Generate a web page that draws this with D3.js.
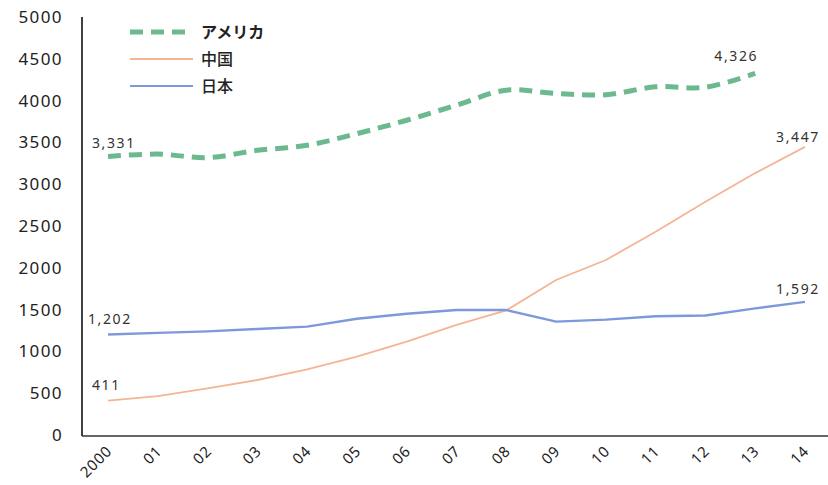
<!DOCTYPE html>
<html>
<head>
<meta charset="utf-8">
<script src="https://cdn.jsdelivr.net/npm/d3@7"></script>
<style>
  body { margin: 0; background: #fff; }
  text { font-family: "Noto Sans", "Noto Sans CJK JP", sans-serif; }
</style>
</head>
<body>
<script>
// Data
const years = ["2000", "01", "02", "03", "04", "05", "06", "07", "08", "09", "10", "11", "12", "13", "14"];
const usa = [3331, 3360, 3318, 3405, 3465, 3605, 3765, 3945, 4125, 4085, 4070, 4165, 4160, 4326];
const china = [411, 466, 558, 658, 786, 937, 1116, 1316, 1490, 1854, 2093, 2432, 2790, 3133, 3447];
const japan = [1202, 1222, 1240, 1268, 1296, 1390, 1450, 1495, 1495, 1356, 1380, 1420, 1430, 1515, 1592];
const yTicks = [0, 500, 1000, 1500, 2000, 2500, 3000, 3500, 4000, 4500, 5000];

const width = 828, height = 485;

const x = d3.scalePoint().domain(years).range([108, 805]);
const y = d3.scaleLinear().domain([0, 5000]).range([435, 17]);

const svg = d3.select("body").append("svg")
  .attr("width", width)
  .attr("height", height)
  .attr("viewBox", [0, 0, width, height]);

// Axes
svg.append("line")
  .attr("x1", 82).attr("x2", 82)
  .attr("y1", y(5000)).attr("y2", y(0) + 1)
  .attr("stroke", "#111").attr("stroke-width", 1.6);

svg.append("line")
  .attr("x1", 82).attr("x2", width)
  .attr("y1", y(0) + 1).attr("y2", y(0) + 1)
  .attr("stroke", "#333").attr("stroke-width", 1.6);

svg.append("g")
  .selectAll("text")
  .data(yTicks)
  .join("text")
  .attr("x", 63)
  .attr("y", (d) => y(d))
  .attr("dy", "0.35em")
  .attr("text-anchor", "end")
  .attr("font-size", 17)
  .attr("letter-spacing", 1.4)
  .attr("fill", "#222")
  .text((d) => d);

svg.append("g")
  .selectAll("text")
  .data(years)
  .join("text")
  .attr("transform", (d) => `translate(${x(d) + 5},${452}) rotate(-45)`)
  .attr("text-anchor", "end")
  .attr("font-size", 15)
  .attr("letter-spacing", 0.8)
  .attr("fill", "#222")
  .text((d) => d);

// Lines
const series = [
  { name: "アメリカ", values: usa, color: "#6cb990", width: 5, dash: "13,8", curve: d3.curveCatmullRom, weight: "bold" },
  { name: "中国", values: china, color: "#f4b595", width: 1.8, dash: null, curve: d3.curveLinear, weight: 500 },
  { name: "日本", values: japan, color: "#7e98dc", width: 2.4, dash: null, curve: d3.curveLinear, weight: 500 }
];

series.forEach((s) => {
  const line = d3.line()
    .x((d, i) => x(years[i]))
    .y((d) => y(d))
    .curve(s.curve);
  svg.append("path")
    .datum(s.values)
    .attr("fill", "none")
    .attr("stroke", s.color)
    .attr("stroke-width", s.width)
    .attr("stroke-dasharray", s.dash)
    .attr("d", line);
});

// Data labels (first and last point of each line)
const labels = [
  { values: usa, i: 0, dx: -16, dy: -9, anchor: "start" },
  { values: usa, i: usa.length - 1, dx: -19, dy: -12, anchor: "middle" },
  { values: china, i: 0, dx: -16, dy: -11, anchor: "start" },
  { values: china, i: china.length - 1, dx: -7, dy: -5, anchor: "middle" },
  { values: japan, i: 0, dx: -20, dy: -11, anchor: "start" },
  { values: japan, i: japan.length - 1, dx: -7, dy: -8, anchor: "middle" }
];

svg.append("g")
  .selectAll("text")
  .data(labels)
  .join("text")
  .attr("x", (d) => x(years[d.i]) + d.dx)
  .attr("y", (d) => y(d.values[d.i]) + d.dy)
  .attr("text-anchor", (d) => d.anchor)
  .attr("font-size", 14)
  .attr("letter-spacing", 1.6)
  .attr("fill", "#333")
  .text((d) => d3.format(",")(d.values[d.i]));

// Legend
const legend = svg.append("g");
series.forEach((s, i) => {
  const ly = 32 + i * 27;
  legend.append("line")
    .attr("x1", 130).attr("x2", 193)
    .attr("y1", ly).attr("y2", ly)
    .attr("stroke", s.color)
    .attr("stroke-width", s.dash ? 5 : 2)
    .attr("stroke-dasharray", s.dash ? "13,8" : null);
  legend.append("text")
    .attr("x", 201)
    .attr("y", ly)
    .attr("dy", "0.35em")
    .attr("font-size", 16)
    .attr("font-weight", s.weight)
    .attr("fill", "#222")
    .text(s.name);
});
</script>
</body>
</html>
